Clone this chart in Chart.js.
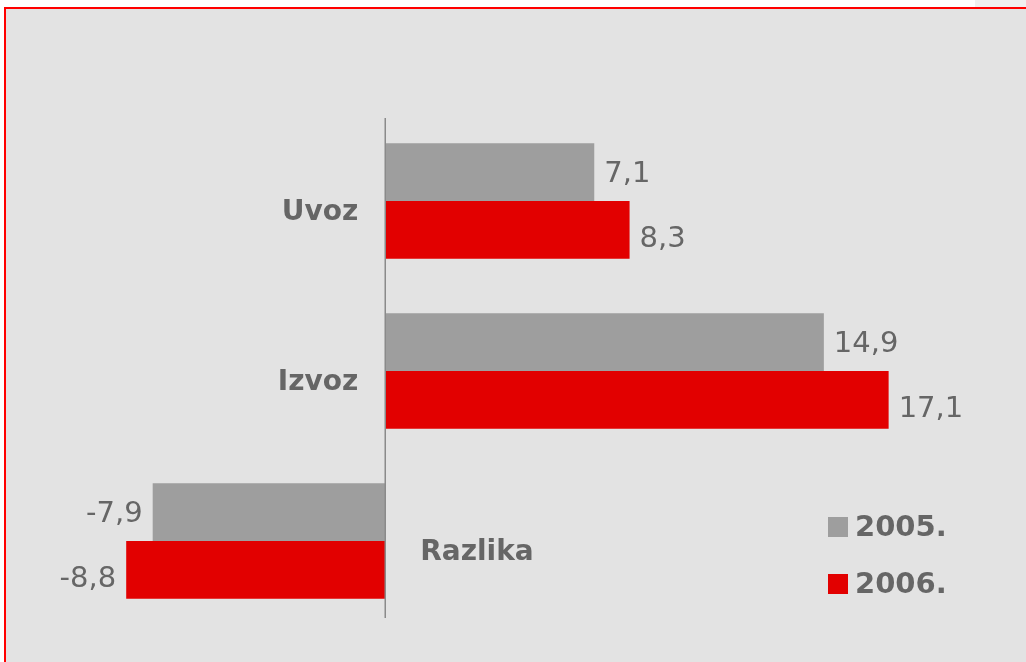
<!DOCTYPE html>
<html>
<head>
<meta charset="utf-8">
<script src="https://cdn.jsdelivr.net/npm/chart.js@4/dist/chart.umd.min.js"></script>
<style>
  html, body { margin: 0; padding: 0; background: #ffffff; overflow: hidden; }
  #corner { position: absolute; left: 975px; top: 0; width: 60px; height: 8px; background: #f0f0f0; }
  #frame { position: absolute; left: 4px; top: 7px; width: 1100px; height: 700px;
           border: 2px solid #ff0000; background: #e3e3e3; }
  #myChart { position: absolute; left: 0; top: 0; }
</style>
</head>
<body>
<div id="corner"></div>
<div id="frame"></div>
<canvas id="myChart" width="1026" height="662"></canvas>
<script>
const categorias = ['Uvoz', 'Izvoz', 'Razlika'];
const serie2005 = [7.1, 14.9, -7.9];
const serie2006 = [8.3, 17.1, -8.8];
const nombresSeries = ['2005.', '2006.'];
const coloresSeries = ['#9e9e9e', '#e20000'];

const textColor = '#666666';
const fmt = v => v.toFixed(1).replace('.', ',');

// zero axis line, category labels, value labels and legend
const dibujarExtras = {
    id: 'dibujarExtras',
    afterDatasetsDraw(chart) {
        const ctx = chart.ctx;
        const xs = chart.scales.x;
        const ys = chart.scales.y;
        const area = chart.chartArea;
        const x0 = xs.getPixelForValue(0);

        ctx.save();
        ctx.strokeStyle = '#8a8a8a';
        ctx.lineWidth = 1.5;
        ctx.beginPath();
        ctx.moveTo(x0, area.top + 2);
        ctx.lineTo(x0, area.bottom - 8);
        ctx.stroke();

        // category labels, on the side opposite to the bars
        ctx.font = 'bold 28px "DejaVu Sans"';
        ctx.fillStyle = textColor;
        ctx.textBaseline = 'middle';
        categorias.forEach((cat, i) => {
            const y = ys.getPixelForValue(i) + 12;
            if (serie2005[i] >= 0) {
                ctx.textAlign = 'right';
                ctx.fillText(cat, x0 - 27, y);
            } else {
                ctx.textAlign = 'left';
                ctx.fillText(cat, x0 + 35, y);
            }
        });

        // value labels
        ctx.font = '29px "DejaVu Sans"';
        chart.data.datasets.forEach((ds, di) => {
            const meta = chart.getDatasetMeta(di);
            meta.data.forEach((bar, i) => {
                const v = ds.data[i];
                const y = bar.y + 2 + 8 * di;
                if (v >= 0) {
                    ctx.textAlign = 'left';
                    ctx.fillText(fmt(v), bar.x + 10, y);
                } else {
                    ctx.textAlign = 'right';
                    ctx.fillText(fmt(v), bar.x - 10, y);
                }
            });
        });

        // legend
        ctx.font = 'bold 29px "DejaVu Sans"';
        ctx.textAlign = 'left';
        nombresSeries.forEach((n, i) => {
            const yc = 527 + i * 57;
            ctx.fillStyle = coloresSeries[i];
            ctx.fillRect(828, yc - 10, 20, 20);
            ctx.fillStyle = textColor;
            ctx.fillText(n, 855, yc + 1);
        });
        ctx.restore();
    }
};

const ctx = document.getElementById('myChart');

new Chart(ctx, {
    type: 'bar',
    data: {
        labels: categorias,
        datasets: [
            {
                label: nombresSeries[0],
                data: serie2005,
                backgroundColor: coloresSeries[0],
                borderWidth: 0,
                barPercentage: 1,
                categoryPercentage: 0.68
            },
            {
                label: nombresSeries[1],
                data: serie2006,
                backgroundColor: coloresSeries[1],
                borderWidth: 0,
                barPercentage: 1,
                categoryPercentage: 0.68
            }
        ]
    },
    options: {
        indexAxis: 'y',
        responsive: false,
        animation: false,
        devicePixelRatio: 1,
        layout: {
            padding: { left: 32, right: 52, top: 116, bottom: 36 }
        },
        plugins: {
            legend: { display: false },
            tooltip: { enabled: false }
        },
        scales: {
            x: { display: false, min: -12, max: 20 },
            y: { display: false }
        }
    },
    plugins: [dibujarExtras]
});
</script>
</body>
</html>
